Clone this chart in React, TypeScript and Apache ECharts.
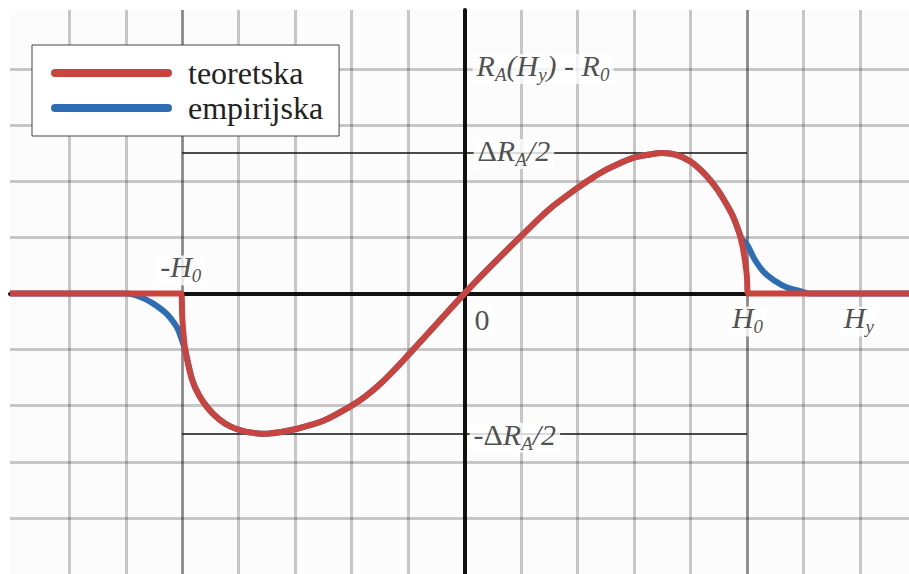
import { useEffect, useRef } from 'react';
import * as echarts from 'echarts';

// Characteristic field and half of the resistance swing
const H0 = 5;
const HALF_DR = 2.5;

// Background grid ticks (field units / resistance units)
const gridX = [-7, -6, -5, -4, -3, -2, -1, 1, 2, 3, 4, 5, 6, 7];
const gridY = [-4, -3, -2, -1, 1, 2, 3, 4];

// Theoretical curve: R_A(H_y) - R_0
const teoretskaH = [
  -8.05, -5.02, -5.0, -4.98, -4.95, -4.9, -4.82, -4.7, -4.54, -4.35, -4.15, -3.9, -3.7, -3.5,
  -3.25, -3.0, -2.5, -2.0, -1.75, -1.5, -1.25, -1.0, -0.5, 0, 0.5, 1.0, 1.5, 2.0, 2.25, 2.5,
  2.75, 3.0, 3.25, 3.5, 3.75, 4.0, 4.25, 4.47, 4.62, 4.75, 4.85, 4.92, 4.97, 5.0, 5.02, 7.9,
];
const teoretskaR = [
  0, 0, -0.42, -0.7, -0.98, -1.25, -1.55, -1.82, -2.05, -2.24, -2.37, -2.46, -2.49, -2.5,
  -2.47, -2.42, -2.27, -2.0, -1.83, -1.62, -1.37, -1.1, -0.55, 0, 0.52, 1.02, 1.5, 1.88, 2.05, 2.2,
  2.32, 2.42, 2.47, 2.5, 2.47, 2.35, 2.13, 1.86, 1.62, 1.38, 1.12, 0.85, 0.55, 0.3, 0, 0,
];

// Empirical curve: smooth tails around -H0 and H0 (the middle follows the theoretical curve)
const empLeftH = [-8.05, -5.97, -5.75, -5.55, -5.4, -5.27, -5.15, -5.07, -5.0, -4.95];
const empLeftR = [0, 0, -0.06, -0.16, -0.26, -0.37, -0.52, -0.65, -0.85, -1.0];
const empRightH = [4.92, 4.98, 5.05, 5.14, 5.29, 5.47, 5.7, 5.94, 6.1, 7.9];
const empRightR = [0.95, 0.9, 0.78, 0.6, 0.39, 0.24, 0.11, 0.04, 0, 0];

const RED = '#c9443f';
const BLUE = '#2d6db4';
const SERIF = 'Liberation Serif';
const INK = '#222';

const pairs = (xs: number[], ys: number[]) => xs.map((x, i) => [x, ys[i]]);

const tok = (fontSize: number, fontStyle: string, extra: object = {}) => ({
  fontFamily: SERIF,
  fontSize,
  lineHeight: fontSize,
  fontStyle,
  color: INK,
  ...extra,
});

// m: italic symbol, u: upright symbol, n: plain number, s: italic subscript
const rich = {
  m: tok(30, 'italic', { padding: [0, 0, 7, 0] }),
  u: tok(30, 'normal', { padding: [0, 0, 7, 0] }),
  n: tok(30, 'normal'),
  s: tok(19, 'italic', { verticalAlign: 'bottom' }),
};

function note(at: number[], text: string, offset: number[]) {
  return {
    value: at,
    label: {
      show: true,
      position: 'inside',
      align: 'left',
      verticalAlign: 'middle',
      offset,
      formatter: text,
      fontFamily: SERIF,
      color: INK,
      backgroundColor: '#fff',
      padding: [0, 4],
      rich,
    },
  };
}

export default function App() {
  const ref = useRef<HTMLDivElement>(null);

  useEffect(() => {
    const chart = echarts.init(ref.current!, null, { renderer: 'svg' });

    const red = pairs(teoretskaH, teoretskaR);
    const blue = [
      ...pairs(empLeftH, empLeftR),
      ...red.filter(([x]) => Math.abs(x) < 4.9),
      ...pairs(empRightH, empRightR),
    ];

    const gridStyle = { color: 'rgba(0,0,0,0.21)', width: 3, type: 'solid' };
    const markData: any[] = [
      ...gridX.map((v) => ({ xAxis: v, lineStyle: gridStyle })),
      ...gridY.map((v) => ({ yAxis: v, lineStyle: gridStyle })),
      { xAxis: -H0, lineStyle: { color: 'rgba(0,0,0,0.32)', width: 2.5, type: 'solid' } },
      { xAxis: H0, lineStyle: { color: 'rgba(0,0,0,0.32)', width: 2.5, type: 'solid' } },
      [
        { coord: [-H0, HALF_DR], lineStyle: { color: '#111', width: 1.5, type: 'solid' } },
        { coord: [H0, HALF_DR] },
      ],
      [
        { coord: [-H0, -HALF_DR], lineStyle: { color: '#111', width: 1.5, type: 'solid' } },
        { coord: [H0, -HALF_DR] },
      ],
    ];

    chart.setOption({
      animation: false,
      textStyle: { fontFamily: SERIF },
      grid: {
        left: 10,
        right: 0,
        top: 10,
        bottom: 0,
        show: true,
        backgroundColor: '#fcfcfc',
        borderWidth: 0,
      },
      xAxis: {
        type: 'value',
        min: -8.05,
        max: 7.87,
        axisLine: { show: true, onZero: true, lineStyle: { color: '#111', width: 4 } },
        axisTick: { show: false },
        axisLabel: { show: false },
        splitLine: { show: false },
      },
      yAxis: {
        type: 'value',
        min: -5,
        max: 5.05,
        axisLine: { show: true, onZero: true, lineStyle: { color: '#111', width: 4 } },
        axisTick: { show: false },
        axisLabel: { show: false },
        splitLine: { show: false },
      },
      legend: {
        data: ['teoretska', 'empirijska'],
        orient: 'vertical',
        left: 32,
        top: 45,
        icon: 'path://M4 0H117A4 4 0 0 1 117 8H4A4 4 0 0 1 4 0Z',
        itemWidth: 121,
        itemHeight: 8,
        itemGap: 3,
        padding: [12, 16, 12, 19],
        backgroundColor: '#fff',
        borderColor: '#444',
        borderWidth: 1,
        selectedMode: false,
        textStyle: {
          fontFamily: SERIF,
          fontSize: 32,
          lineHeight: 31,
          color: INK,
          padding: [0, 0, 0, 11],
        },
      },
      series: [
        {
          type: 'line',
          name: 'grid',
          data: [],
          silent: true,
          z: 1,
          markLine: {
            silent: true,
            z: 1,
            symbol: ['none', 'none'],
            label: { show: false },
            emphasis: { disabled: true },
            data: markData,
          },
        },
        {
          type: 'line',
          name: 'empirijska',
          data: blue,
          z: 2,
          smooth: 0.3,
          showSymbol: false,
          silent: true,
          color: BLUE,
          itemStyle: { color: BLUE },
          lineStyle: { color: BLUE, width: 6, join: 'miter' },
        },
        {
          type: 'line',
          name: 'teoretska',
          data: red,
          z: 3,
          smooth: 0.3,
          showSymbol: false,
          silent: true,
          color: RED,
          itemStyle: { color: RED },
          lineStyle: { color: RED, width: 6, join: 'miter' },
        },
        {
          type: 'scatter',
          name: 'oznake',
          z: 4,
          silent: true,
          symbolSize: 0,
          data: [
            note([0, 4], '{m|R}{s|A}{m|(H}{s|y}{m|)}{u| - }{m|R}{s|0}', [8, 0]),
            note([0, HALF_DR], '{u|Δ}{m|R}{s|A}{m|/2}', [9, 1]),
            note([0, -HALF_DR], '{u|-Δ}{m|R}{s|A}{m|/2}', [5, 4]),
            note([0, 0], '{n|0}', [6, 26]),
            note([H0, 0], '{m|H}{s|0}', [-19, 28]),
            note([7, 0], '{m|H}{s|y}', [-20, 28]),
            note([-H0, 0], '{u|-}{m|H}{s|0}', [-26, -23]),
          ],
        },
      ],
    });

    return () => chart.dispose();
  }, []);

  return (
    <div
      ref={ref}
      style={{ position: 'fixed', left: 0, top: 0, width: 909, height: 574, background: '#fff' }}
    />
  );
}
